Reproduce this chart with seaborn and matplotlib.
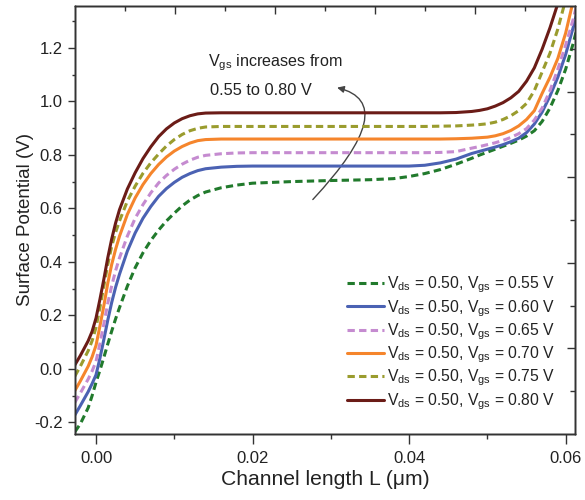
import numpy as np
import pandas as pd
import matplotlib
matplotlib.use("Agg")
import matplotlib.pyplot as plt
import seaborn as sns
from matplotlib.ticker import MultipleLocator, FixedLocator
from matplotlib.patches import FancyArrowPatch

# ---------------- data ----------------
L_um = [-0.0027, -0.002, -0.001, -0.0005, 0.000, 0.0005, 0.001, 0.0015, 0.002,
        0.0025, 0.003, 0.004, 0.005, 0.006, 0.007, 0.008, 0.009, 0.010, 0.011,
        0.012, 0.013, 0.014, 0.016, 0.018, 0.020, 0.025, 0.030, 0.035, 0.038,
        0.040, 0.042, 0.044, 0.046, 0.048, 0.049, 0.050, 0.051, 0.052, 0.053,
        0.054, 0.055, 0.056, 0.057, 0.058, 0.059, 0.060, 0.061, 0.0615]

phi_vgs055 = [-0.235, -0.205, -0.145, -0.100, -0.050, -0.005, 0.043, 0.093, 0.141,
              0.187, 0.229, 0.309, 0.378, 0.434, 0.480, 0.519, 0.553, 0.582, 0.609,
              0.631, 0.648, 0.661, 0.677, 0.687, 0.694, 0.700, 0.704, 0.707, 0.711,
              0.719, 0.730, 0.745, 0.765, 0.787, 0.799, 0.810, 0.821, 0.832, 0.843,
              0.855, 0.870, 0.890, 0.925, 0.975, 1.040, 1.120, 1.220, 1.280]
phi_vgs060 = [-0.172, -0.137, -0.085, -0.055, -0.022, 0.040, 0.110, 0.182, 0.248,
              0.305, 0.354, 0.440, 0.508, 0.563, 0.607, 0.645, 0.674, 0.697, 0.716,
              0.730, 0.741, 0.748, 0.754, 0.757, 0.758, 0.758, 0.758, 0.758, 0.758,
              0.758, 0.761, 0.770, 0.784, 0.805, 0.813, 0.821, 0.829, 0.838, 0.849,
              0.862, 0.883, 0.915, 0.960, 1.020, 1.090, 1.175, 1.280, 1.340]
phi_vgs065 = [-0.125, -0.090, -0.038, -0.008, 0.028, 0.095, 0.168, 0.245, 0.310,
              0.367, 0.415, 0.496, 0.563, 0.614, 0.658, 0.695, 0.723, 0.746, 0.765,
              0.780, 0.791, 0.798, 0.804, 0.807, 0.808, 0.808, 0.808, 0.808, 0.808,
              0.808, 0.808, 0.809, 0.812, 0.825, 0.831, 0.838, 0.845, 0.854, 0.865,
              0.879, 0.898, 0.930, 0.975, 1.040, 1.120, 1.210, 1.310, 1.370]
phi_vgs070 = [-0.081, -0.045, 0.010, 0.045, 0.088, 0.160, 0.236, 0.320, 0.390,
              0.447, 0.496, 0.577, 0.639, 0.689, 0.730, 0.764, 0.792, 0.814, 0.831,
              0.844, 0.853, 0.857, 0.859, 0.859, 0.859, 0.859, 0.859, 0.859, 0.859,
              0.859, 0.859, 0.859, 0.860, 0.862, 0.864, 0.866, 0.871, 0.879, 0.891,
              0.908, 0.932, 0.965, 1.030, 1.090, 1.160, 1.255, 1.380, 1.440]
phi_vgs075 = [-0.027, 0.010, 0.068, 0.105, 0.155, 0.230, 0.310, 0.390, 0.458,
              0.510, 0.553, 0.627, 0.683, 0.731, 0.770, 0.803, 0.833, 0.857, 0.876,
              0.890, 0.899, 0.904, 0.906, 0.906, 0.906, 0.906, 0.906, 0.906, 0.906,
              0.906, 0.906, 0.907, 0.908, 0.911, 0.913, 0.916, 0.922, 0.932, 0.946,
              0.965, 0.992, 1.040, 1.110, 1.180, 1.270, 1.380, 1.490, 1.550]
phi_vgs080 = [0.015, 0.050, 0.105, 0.140, 0.190, 0.260, 0.335, 0.415, 0.485,
              0.545, 0.595, 0.672, 0.733, 0.786, 0.830, 0.868, 0.897, 0.919, 0.935,
              0.946, 0.953, 0.956, 0.957, 0.957, 0.957, 0.957, 0.957, 0.957, 0.957,
              0.957, 0.957, 0.957, 0.958, 0.962, 0.966, 0.972, 0.982, 0.995, 1.013,
              1.037, 1.075, 1.125, 1.195, 1.275, 1.365, 1.460, 1.560, 1.610]

vgs_values = ["0.55", "0.60", "0.65", "0.70", "0.75", "0.80"]
series_values = [phi_vgs055, phi_vgs060, phi_vgs065, phi_vgs070, phi_vgs075, phi_vgs080]
series_colors = ["#217a2c", "#4b62b3", "#c58bd0", "#f5852c", "#9a9c2e", "#6b1c17"]
series_dashed = [True, False, True, False, True, False]

x_ticks = [0.00, 0.02, 0.04, 0.06]
y_ticks = [-0.2, 0.0, 0.2, 0.4, 0.6, 0.8, 1.0, 1.2]

# ---------------- build table ----------------
labels = [r"V$_{ds}$ = 0.50, V$_{gs}$ = " + v + " V" for v in vgs_values]
frames = []
for lab, vals in zip(labels, series_values):
    frames.append(pd.DataFrame({"L": L_um, "phi": vals, "series": lab}))
df = pd.concat(frames, ignore_index=True)

palette = dict(zip(labels, series_colors))
dashes = {lab: ((2.4, 1.4) if d else "") for lab, d in zip(labels, series_dashed)}

# ---------------- style ----------------
sns.set_style("ticks")
plt.rcParams["font.family"] = ["Liberation Sans", "DejaVu Sans"]
plt.rcParams["mathtext.fontset"] = "custom"
plt.rcParams["mathtext.rm"] = "Liberation Sans"
plt.rcParams["mathtext.it"] = "Liberation Sans"
plt.rcParams["mathtext.default"] = "regular"

text_color = "#222222"
spine_color = "#333333"

fig = plt.figure(figsize=(5.85, 5.0), dpi=100)
ax = fig.add_axes([0.128, 0.132, 0.855, 0.856])

sns.lineplot(data=df, x="L", y="phi", hue="series", style="series",
             palette=palette, dashes=dashes, linewidth=2.2, sort=False,
             estimator=None, ax=ax)

ax.set_xlim(-0.0027, 0.0612)
ax.set_ylim(-0.243, 1.356)
ax.set_xticks(x_ticks)
ax.set_xticklabels([f"{v:.2f}" for v in x_ticks])
ax.xaxis.set_minor_locator(MultipleLocator(0.01))
ax.set_yticks(y_ticks)
ax.set_yticklabels([f"{v:.1f}" for v in y_ticks])
ax.yaxis.set_minor_locator(MultipleLocator(0.1))

ax.tick_params(axis="both", which="both", direction="out", width=1.0,
               color=spine_color, labelsize=12, labelcolor=text_color)
ax.tick_params(axis="x", which="major", length=7, pad=5)
ax.tick_params(axis="x", which="minor", length=3.5)
ax.tick_params(axis="y", which="major", length=5, pad=4)
ax.tick_params(axis="y", which="minor", length=2.5)
ax.tick_params(top=False, right=False, which="both")

for s in ax.spines.values():
    s.set_color(spine_color)
    s.set_linewidth(1.0)

ax.set_xlabel("Channel length L (\u03bcm)", fontsize=15.2, color=text_color, labelpad=3)
ax.set_ylabel("Surface Potential (V)", fontsize=13.5, color=text_color, labelpad=0)

# inward ticks on the top and right frame (independent scale, as in the original)
ax_top = ax.twiny()
ax_top.set_xlim(0, 1)
ax_top.xaxis.set_major_locator(FixedLocator([0.2, 0.4, 0.6, 0.8]))
ax_top.xaxis.set_minor_locator(FixedLocator([0.1, 0.3, 0.5, 0.7, 0.9]))
ax_top.tick_params(axis="x", which="major", direction="in", length=6, width=1.0,
                   color=spine_color, labeltop=False)
ax_top.tick_params(axis="x", which="minor", direction="in", length=3.5, width=1.0,
                   color=spine_color)
ax_right = ax.twinx()
ax_right.set_ylim(0, 1)
ax_right.yaxis.set_major_locator(FixedLocator([0.2, 0.4, 0.6, 0.8]))
ax_right.yaxis.set_minor_locator(FixedLocator([0.1, 0.3, 0.5, 0.7, 0.9]))
ax_right.tick_params(axis="y", which="major", direction="in", length=6, width=1.0,
                     color=spine_color, labelright=False)
ax_right.tick_params(axis="y", which="minor", direction="in", length=3.5, width=1.0,
                     color=spine_color)
for a in (ax_top, ax_right):
    for s in a.spines.values():
        s.set_color(spine_color)
        s.set_linewidth(1.0)

# legend
handles, leg_labels = ax.get_legend_handles_labels()
leg = ax.legend(handles, leg_labels, loc="lower right", bbox_to_anchor=(0.98, 0.03),
                frameon=False, fontsize=11.3, handlelength=2.35, handletextpad=0.2,
                labelspacing=0.17, borderaxespad=0.2)
for t in leg.get_texts():
    t.set_color(text_color)
for h in leg.get_lines():
    h.set_linewidth(2.2)

# annotation
ax.text(0.0143, 1.130, r"V$_{gs}$ increases from", fontsize=11.6, color=text_color,
        ha="left", va="baseline")
ax.text(0.0146, 1.025, "0.55 to 0.80 V", fontsize=11.8, color=text_color,
        ha="left", va="baseline")
arrow = FancyArrowPatch((0.0277, 0.633), (0.0308, 1.051),
                        connectionstyle="angle3,angleA=47,angleB=-14",
                        arrowstyle="-|>", mutation_scale=10, color="#444444",
                        lw=1.0, shrinkA=0, shrinkB=0)
ax.add_patch(arrow)

fig.savefig("out.png", dpi=100)
